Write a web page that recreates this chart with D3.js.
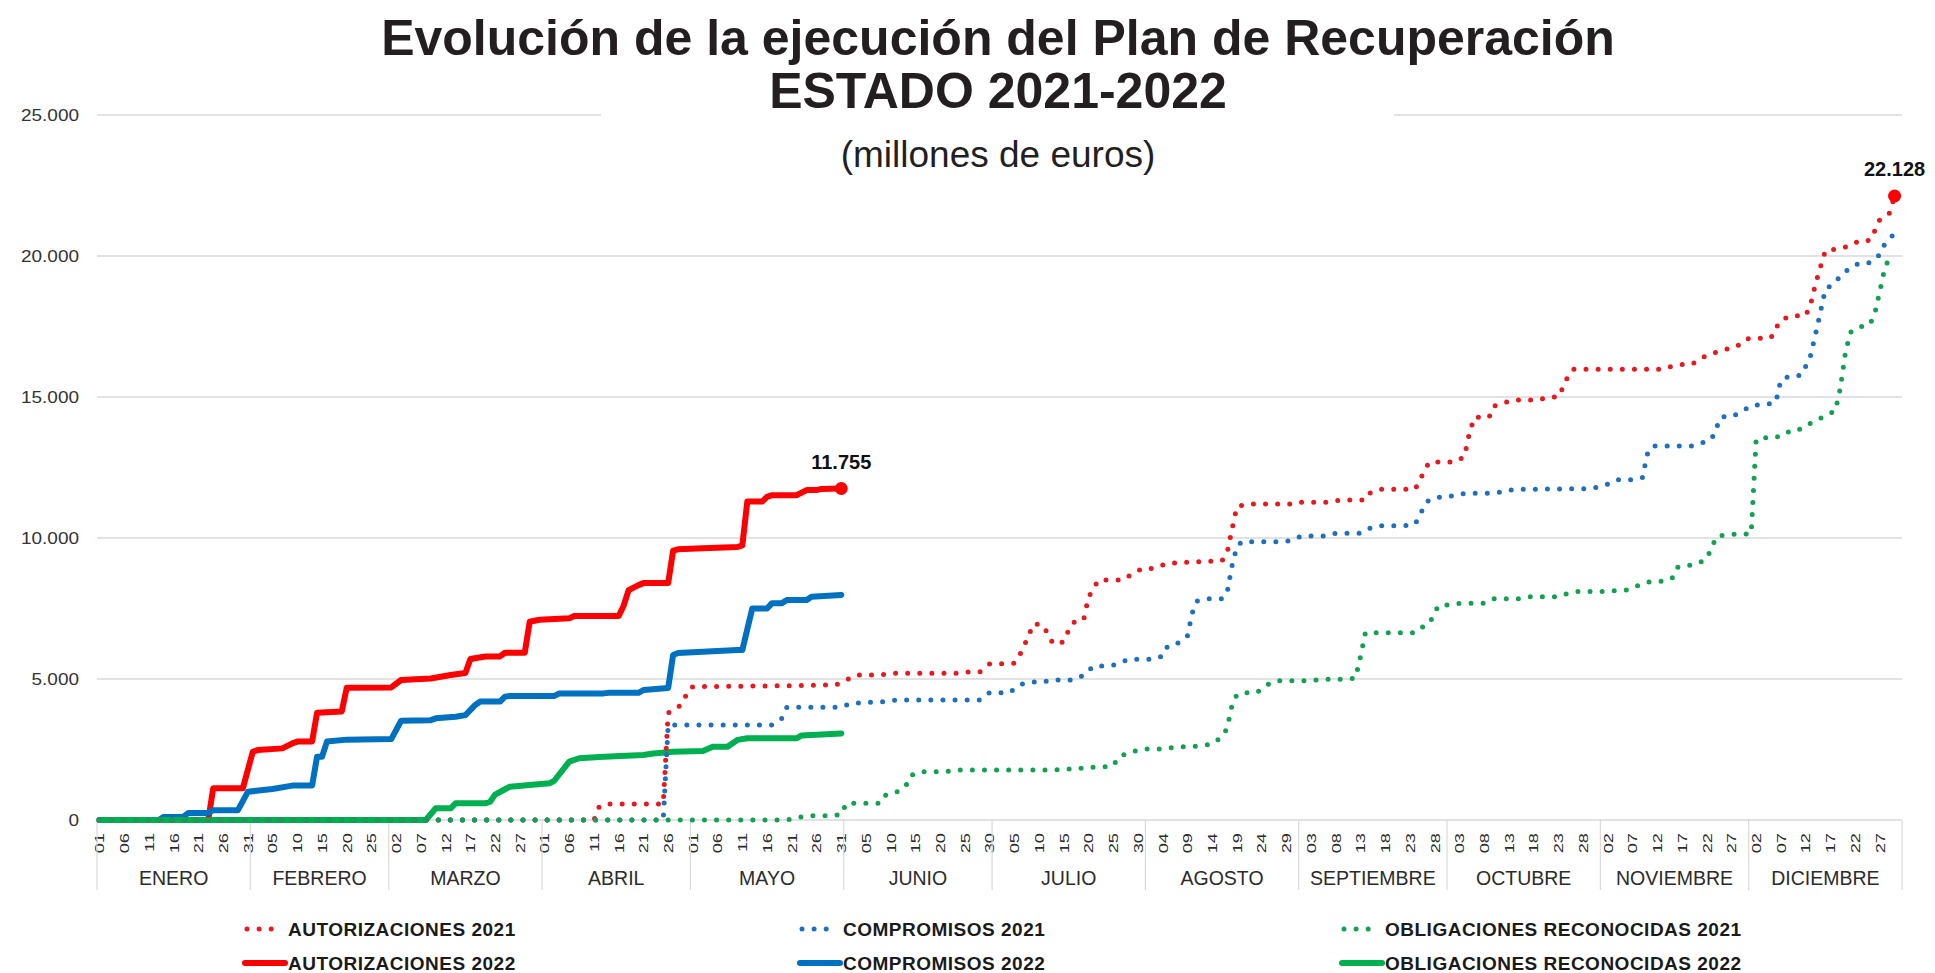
<!DOCTYPE html>
<html>
<head>
<meta charset="utf-8">
<script src="https://cdn.jsdelivr.net/npm/d3@7"></script>
<style>
  body { margin: 0; background: #fff; }
  svg { display: block; font-family: "Liberation Sans", Arial, sans-serif; }
</style>
</head>
<body>
<svg id="chart" width="1935" height="973"></svg>
<script>
// values, [day "MM-DD", millones de euros]
const aut2021 = [["01-01",0],["04-11",0],["04-12",450],["04-13",570],["04-25",570],["04-26",3800],["04-27",3900],
  ["04-28",4000],["04-29",4160],["04-30",4600],["05-01",4730],["05-20",4760],["05-30",4790],["05-31",4900],
  ["06-02",5035],["06-03",5140],["06-08",5150],["06-10",5200],["06-23",5200],["06-25",5250],["06-28",5250],
  ["06-30",5530],["07-05",5560],["07-06",5815],["07-07",6180],["07-08",6600],["07-09",6970],["07-11",6880],
  ["07-12",6480],["07-13",6230],["07-15",6320],["07-16",6740],["07-17",7010],["07-19",7090],["07-20",7900],
  ["07-21",8215],["07-22",8510],["07-27",8510],["07-29",8750],["07-31",8920],["08-02",8920],["08-05",9100],
  ["08-07",9125],["08-16",9196],["08-17",9450],["08-18",10300],["08-19",11110],["08-21",11205],["08-31",11205],
  ["09-01",11264],["09-06",11264],["09-09",11347],["09-14",11347],["09-15",11607],["09-17",11725],["09-24",11725],
  ["09-25",12030],["09-26",12440],["09-27",12695],["10-02",12695],["10-04",12884],["10-05",13700],["10-06",14280],
  ["10-09",14280],["10-10",14680],["10-12",14800],["10-14",14893],["10-19",14893],["10-21",15000],["10-23",15000],
  ["10-24",15360],["10-25",15760],["10-26",15980],["11-13",15980],["11-15",16090],["11-17",16155],["11-19",16155],
  ["11-21",16390],["11-23",16530],["11-25",16660],["11-28",16780],["11-30",17056],["12-02",17083],["12-05",17094],
  ["12-06",17440],["12-07",17720],["12-09",17880],["12-12",17880],["12-13",18270],["12-14",19010],["12-15",19600],
  ["12-16",20190],["12-19",20267],["12-21",20361],["12-23",20550],["12-25",20550],["12-26",20895],["12-27",21290],
  ["12-29",21524],["12-30",22128]];

const comp2021 = [["01-01",0],["04-25",0],["04-26",3370],["05-17",3370],["05-19",3605],["05-20",3995],["05-31",3995],
  ["06-02",4140],["06-09",4196],["06-11",4255],["06-28",4255],["06-30",4515],["07-04",4515],["07-06",4787],
  ["07-08",4893],["07-11",4893],["07-12",4964],["07-17",4964],["07-19",5130],["07-21",5461],["07-24",5461],
  ["07-26",5532],["07-28",5697],["08-02",5697],["08-04",5815],["08-05",6170],["08-07",6265],["08-09",6525],
  ["08-10",7352],["08-11",7766],["08-13",7849],["08-16",7849],["08-17",8037],["08-18",9000],["08-19",9692],
  ["08-20",9870],["08-28",9870],["08-30",9905],["09-01",10071],["09-06",10071],["09-08",10165],["09-13",10165],
  ["09-15",10354],["09-17",10437],["09-22",10437],["09-24",10485],["09-25",10792],["09-26",11205],["09-27",11370],
  ["09-30",11489],["10-02",11489],["10-04",11583],["10-09",11583],["10-11",11619],["10-14",11725],["10-29",11752],
  ["10-31",11805],["11-02",11911],["11-04",12070],["11-07",12070],["11-09",12137],["11-10",12972],["11-11",13264],
  ["11-19",13264],["11-21",13370],["11-23",13503],["11-24",13927],["11-25",14298],["11-27",14298],["11-29",14470],
  ["12-01",14696],["12-04",14737],["12-06",14816],["12-07",15601],["12-09",15758],["12-11",15758],["12-12",16073],
  ["12-13",16465],["12-14",17219],["12-15",18005],["12-16",18822],["12-18",19057],["12-19",19293],["12-21",19576],
  ["12-23",19764],["12-25",19764],["12-27",20047],["12-28",20424],["12-30",20800]];

const oblig2021 = [["01-01",0],["05-20",0],["05-22",80],["05-24",150],["05-28",150],["05-31",185],["06-01",590],
  ["06-06",590],["06-08",600],["06-09",887],["06-11",969],["06-13",1182],["06-14",1572],["06-16",1714],["06-21",1714],
  ["06-23",1773],["07-13",1773],["07-15",1808],["07-18",1808],["07-19",1867],["07-22",1867],["07-25",1915],
  ["07-26",2210],["07-28",2388],["07-31",2518],["08-04",2518],["08-07",2600],["08-09",2600],["08-12",2636],
  ["08-14",2695],["08-16",2955],["08-17",3250],["08-18",4054],["08-19",4450],["08-21",4515],["08-23",4515],
  ["08-25",4787],["08-27",4941],["09-03",4941],["09-05",4988],["09-10",4988],["09-12",5035],["09-13",5800],
  ["09-14",6643],["09-24",6643],["09-25",6796],["09-27",6974],["09-28",7387],["09-29",7624],["10-01",7624],
  ["10-03",7683],["10-08",7683],["10-10",7849],["10-15",7849],["10-17",7920],["10-23",7920],["10-25",8040],
  ["10-27",8106],["11-01",8106],["11-04",8133],["11-06",8159],["11-08",8305],["11-10",8437],["11-13",8464],
  ["11-15",8570],["11-16",8955],["11-18",9021],["11-20",9074],["11-22",9260],["11-23",9657],["11-24",10055],
  ["11-26",10121],["12-01",10150],["12-02",13480],["12-04",13559],["12-06",13559],["12-08",13763],["12-10",13763],
  ["12-12",13999],["12-14",14140],["12-16",14345],["12-18",14502],["12-19",15287],["12-20",16496],["12-21",17282],
  ["12-23",17486],["12-25",17565],["12-26",17958],["12-27",18743],["12-28",19560],["12-29",19953],["12-30",20000]];

const aut2022 = [["01-01",0],["01-23",0],["01-24",1130],["01-30",1130],["02-01",2420],["02-02",2480],["02-07",2540],
  ["02-09",2720],["02-10",2780],["02-13",2780],["02-14",3800],["02-19",3850],["02-20",4690],["03-01",4700],
  ["03-03",4965],["03-09",5020],["03-13",5140],["03-16",5210],["03-17",5710],["03-20",5800],["03-23",5800],
  ["03-24",5930],["03-28",5930],["03-29",7030],["03-31",7100],["04-06",7150],["04-07",7235],["04-16",7235],
  ["04-17",7600],["04-18",8150],["04-20",8330],["04-21",8400],["04-26",8400],["04-27",9550],["04-28",9600],
  ["05-03",9640],["05-10",9680],["05-11",9740],["05-12",11290],["05-15",11290],["05-16",11460],["05-17",11520],
  ["05-22",11520],["05-24",11700],["05-26",11700],["05-27",11740],["05-31",11755]];

const comp2022 = [["01-01",0],["01-13",0],["01-14",110],["01-18",117],["01-19",250],["01-23",250],["01-24",350],
  ["01-29",350],["01-31",1000],["02-05",1100],["02-09",1220],["02-13",1220],["02-14",2245],["02-15",2245],
  ["02-16",2780],["02-20",2850],["03-01",2870],["03-03",3520],["03-09",3540],["03-10",3605],["03-14",3660],
  ["03-16",3720],["03-18",4080],["03-19",4200],["03-23",4200],["03-24",4375],["03-25",4400],["04-03",4400],
  ["04-04",4490],["04-13",4490],["04-14",4510],["04-20",4510],["04-21",4610],["04-26",4680],["04-27",5850],
  ["04-28",5920],["05-10",6030],["05-11",6030],["05-13",7500],["05-16",7500],["05-17",7690],["05-19",7690],
  ["05-20",7800],["05-24",7800],["05-25",7920],["05-31",7980]];

const oblig2022 = [["01-01",0],["03-08",0],["03-10",415],["03-13",415],["03-14",590],["03-20",590],["03-21",650],
  ["03-22",900],["03-24",1090],["03-25",1180],["04-02",1300],["04-03",1400],["04-06",2070],["04-08",2190],
  ["04-13",2245],["04-21",2305],["04-23",2360],["04-27",2420],["05-03",2450],["05-05",2600],["05-08",2600],
  ["05-10",2840],["05-12",2900],["05-22",2900],["05-23",3000],["05-31",3070]];

const monthNames = ["ENERO","FEBRERO","MARZO","ABRIL","MAYO","JUNIO","JULIO","AGOSTO",
  "SEPTIEMBRE","OCTUBRE","NOVIEMBRE","DICIEMBRE"];
const yTicks = [0, 5000, 10000, 15000, 20000, 25000];
const legendNames = ["AUTORIZACIONES 2021", "COMPROMISOS 2021", "OBLIGACIONES RECONOCIDAS 2021",
  "AUTORIZACIONES 2022", "COMPROMISOS 2022", "OBLIGACIONES RECONOCIDAS 2022"];

const svg = d3.select("#chart");
const plotLeft = 97, plotRight = 1902, plotTop = 115, plotBottom = 820;

const es = d3.formatLocale({ decimal: ",", thousands: ".", grouping: [3], currency: ["", " €"] });
const fmtNum = es.format(",");

// one category per day of the year
const days = d3.timeDay.range(new Date(2021, 0, 1), new Date(2022, 0, 1));
const keyOf = d3.timeFormat("%m-%d");
const dayKeys = days.map(keyOf);

const x = d3.scaleBand().domain(dayKeys).range([plotLeft, plotRight]).paddingInner(0).paddingOuter(0);
const bw = x.bandwidth();
const y = d3.scaleLinear().domain([0, 25000]).range([plotBottom, plotTop]);

// gridlines
svg.append("g").selectAll("line").data(yTicks).join("line")
  .attr("x1", plotLeft).attr("x2", plotRight)
  .attr("y1", d => y(d)).attr("y2", d => y(d))
  .attr("stroke", "#d9d9d9").attr("stroke-width", 1.5);

// y axis labels
const yAxis = svg.append("g").attr("transform", `translate(${plotLeft},0)`)
  .call(d3.axisLeft(y).tickValues(yTicks).tickSize(0).tickPadding(18).tickFormat(fmtNum));
yAxis.select(".domain").remove();
yAxis.selectAll("text")
  .attr("x", -18 / 1.15).attr("transform", "scale(1.15,1)")
  .style("font-family", "'Liberation Sans', Arial, sans-serif")
  .style("font-size", "16.5px").style("fill", "#333");

// x axis: day labels every 5 days
const xAxis = svg.append("g").attr("transform", `translate(0,${plotBottom})`)
  .call(d3.axisBottom(x).tickValues(dayKeys.filter((d, i) => i % 5 === 0))
    .tickSize(0).tickFormat(k => k.slice(3)));
xAxis.select(".domain").remove();
xAxis.selectAll("text")
  .attr("y", 0).attr("x", 0).attr("dy", "0.36em")
  .attr("transform", "translate(0,13) rotate(-90) scale(1.35,1)")
  .style("text-anchor", "end")
  .style("font-family", "'Liberation Sans', Arial, sans-serif")
  .style("font-size", "13.5px").style("fill", "#2b2b2b");

// month separators and names
const monthStarts = days.filter(d => d.getDate() === 1).map(keyOf);
const edges = monthStarts.map(k => x(k)).concat([plotRight]);
svg.append("g").selectAll("line").data(edges).join("line")
  .attr("x1", d => d).attr("x2", d => d)
  .attr("y1", plotBottom).attr("y2", 890)
  .attr("stroke", "#d9d9d9").attr("stroke-width", 1.2);
svg.append("g").selectAll("text").data(monthNames).join("text")
  .attr("x", (d, i) => (edges[i] + edges[i + 1]) / 2)
  .attr("y", 885)
  .attr("text-anchor", "middle")
  .style("font-size", "19.5px").style("fill", "#2b2b2b")
  .text(d => d);

// series
const line = d3.line().x(d => x(d[0]) + bw / 2).y(d => y(d[1]));
const series = [
  { data: aut2022, color: "#ff0000", dotted: false },
  { data: comp2022, color: "#0070c0", dotted: false },
  { data: oblig2022, color: "#00b050", dotted: false },
  { data: aut2021, color: "#e8191e", dotted: true },
  { data: comp2021, color: "#1f6fbf", dotted: true },
  { data: oblig2021, color: "#12a150", dotted: true }
];
svg.append("g").selectAll("path").data(series).join("path")
  .attr("d", s => line(s.data))
  .attr("fill", "none")
  .attr("stroke", s => s.color)
  .attr("stroke-width", s => s.dotted ? 5 : 6)
  .attr("stroke-linejoin", "round")
  .attr("stroke-linecap", "round")
  .attr("stroke-dasharray", s => s.dotted ? "0 12.1" : null);

// end markers with values
const ends = [aut2022[aut2022.length - 1], aut2021[aut2021.length - 1]];
svg.append("g").selectAll("circle").data(ends).join("circle")
  .attr("cx", d => x(d[0]) + bw / 2).attr("cy", d => y(d[1]))
  .attr("r", 6.5).attr("fill", "#ff0000");
svg.append("g").selectAll("text").data(ends).join("text")
  .attr("x", d => x(d[0]) + bw / 2).attr("y", d => y(d[1]) - 20)
  .attr("text-anchor", "middle")
  .style("font-size", "20px").style("font-weight", "bold").style("fill", "#111")
  .text(d => fmtNum(d[1]));

// title block (white box hides the top gridline)
svg.append("rect").attr("x", 601).attr("y", 5).attr("width", 793).attr("height", 175).attr("fill", "#fff");
svg.append("text").attr("x", 998).attr("y", 55).attr("text-anchor", "middle")
  .style("font-size", "50px").style("font-weight", "bold").style("fill", "#231f20")
  .text("Evolución de la ejecución del Plan de Recuperación");
svg.append("text").attr("x", 998).attr("y", 108).attr("text-anchor", "middle")
  .style("font-size", "50px").style("font-weight", "bold").style("fill", "#231f20")
  .text("ESTADO 2021-2022");
svg.append("text").attr("x", 998).attr("y", 167).attr("text-anchor", "middle")
  .style("font-size", "37px").style("fill", "#231f20")
  .text("(millones de euros)");

// legend
const legCols = [245, 800, 1342];
const legRows = [929, 963];
const leg = svg.append("g").selectAll("g").data(legendNames).join("g")
  .attr("transform", (d, i) => `translate(${legCols[i % 3]},${legRows[Math.floor(i / 3)]})`);
leg.append("line")
  .attr("x1", (d, i) => i < 3 ? 2 : 0).attr("x2", (d, i) => i < 3 ? 28 : 40)
  .attr("stroke", (d, i) => series[(i + 3) % 6].color)
  .attr("stroke-width", (d, i) => i < 3 ? 5 : 6)
  .attr("stroke-linecap", "round")
  .attr("stroke-dasharray", (d, i) => i < 3 ? "0 12.1" : null);
leg.append("text")
  .attr("x", 43).attr("y", 7)
  .style("font-size", "19px").style("font-weight", "bold").style("letter-spacing", "0.5px")
  .style("fill", "#1a1a1a")
  .text(d => d);
</script>
</body>
</html>
